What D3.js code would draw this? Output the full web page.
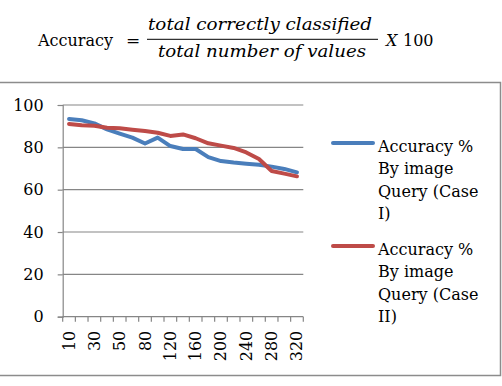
<!DOCTYPE html>
<html>
<head>
<meta charset="utf-8">
<script src="https://cdn.jsdelivr.net/npm/d3@7"></script>
<style>
  html, body { margin: 0; padding: 0; background: #fff; }
  svg { display: block; }
  text { font-family: "DejaVu Serif", serif; fill: #000; }
</style>
</head>
<body>
<div id="chart"></div>
<script>
// data
const categories = ["10", "20", "30", "40", "50", "60", "80", "100", "120", "140",
  "160", "180", "200", "220", "240", "260", "280", "300", "320"]
const shownLabels = ["10", "30", "50", "80", "120", "160", "200", "240", "280", "320"]
const caseI = [93.4, 92.8, 91.3, 88.5, 86.5, 84.6, 81.8, 84.6, 80.6, 79.2,
  79.2, 75.4, 73.5, 72.8, 72.3, 71.8, 70.9, 69.8, 68.2]
const caseII = [91.0, 90.4, 90.2, 89.3, 89.0, 88.3, 87.7, 86.9, 85.4, 86.1,
  84.3, 81.9, 80.8, 79.7, 77.6, 74.5, 68.8, 67.6, 66.3]
const yTicks = [0, 20, 40, 60, 80, 100]
const seriesNames = [
  ["Accuracy %", "By image", "Query (Case", "I)"],
  ["Accuracy %", "By image", "Query (Case", "II)"]
]
const colors = ["#4a7ebb", "#be4b48"]

const width = 502
const height = 386

const svg = d3.select("#chart")
  .append("svg")
  .attr("width", width)
  .attr("height", height)

// formula
const f = svg.append("g")
f.append("text").attr("x", 38).attr("y", 46).attr("font-size", 16).text("Accuracy")
f.append("text").attr("x", 126).attr("y", 46).attr("font-size", 17).text("=")
f.append("line")
  .attr("x1", 147).attr("x2", 378).attr("y1", 39.3).attr("y2", 39.3)
  .attr("stroke", "#000").attr("stroke-width", 1)
f.append("text").attr("x", 148).attr("y", 29.5).attr("font-size", 16)
  .attr("font-style", "italic")
  .attr("textLength", 224).attr("lengthAdjust", "spacingAndGlyphs")
  .text("total correctly classified")
f.append("text").attr("x", 158).attr("y", 57).attr("font-size", 16)
  .attr("font-style", "italic")
  .attr("textLength", 208).attr("lengthAdjust", "spacingAndGlyphs")
  .text("total number of values")
f.append("text").attr("x", 386).attr("y", 46).attr("font-size", 16)
  .attr("font-style", "italic").text("X")
f.append("text").attr("x", 403).attr("y", 46).attr("font-size", 16).text("100")

// chart frame
svg.append("rect")
  .attr("x", -2).attr("y", 82.5)
  .attr("width", 502.5).attr("height", 293)
  .attr("fill", "none")
  .attr("stroke", "#8c8c8c")
  .attr("stroke-width", 1.5)

const plot = { left: 62.7, right: 303.3, top: 105, bottom: 316.7 }

const x = d3.scaleBand()
  .domain(categories)
  .range([plot.left, plot.right])

const y = d3.scaleLinear()
  .domain([0, 100])
  .range([plot.bottom, plot.top])

// gridlines
svg.append("g")
  .selectAll("line")
  .data(yTicks.filter(d => d > 0))
  .join("line")
  .attr("x1", plot.left).attr("x2", plot.right)
  .attr("y1", d => y(d)).attr("y2", d => y(d))
  .attr("stroke", "#868686")
  .attr("stroke-width", 1.2)

// y axis
const yAxis = svg.append("g")
  .attr("transform", `translate(${plot.left},0)`)
  .call(d3.axisLeft(y).tickValues(yTicks).tickSize(5).tickPadding(14))
yAxis.select(".domain").attr("stroke", "#868686").attr("stroke-width", 1.2)
yAxis.selectAll(".tick line").attr("stroke", "#868686").attr("stroke-width", 1.2)
yAxis.selectAll("text")
  .attr("font-family", "DejaVu Serif")
  .attr("font-size", 16)
  .attr("fill", "#000")

// x axis line + ticks at category boundaries
const xg = svg.append("g")
xg.append("line")
  .attr("x1", plot.left).attr("x2", plot.right)
  .attr("y1", plot.bottom).attr("y2", plot.bottom)
  .attr("stroke", "#868686").attr("stroke-width", 1.2)
xg.selectAll("line.tk")
  .data(categories.concat(["end"]))
  .join("line")
  .attr("class", "tk")
  .attr("x1", (d, i) => i < categories.length ? x(d) : plot.right)
  .attr("x2", (d, i) => i < categories.length ? x(d) : plot.right)
  .attr("y1", plot.bottom).attr("y2", plot.bottom + 5)
  .attr("stroke", "#868686").attr("stroke-width", 1.2)

xg.selectAll("text")
  .data(shownLabels)
  .join("text")
  .attr("transform", d => `translate(${x(d) + x.bandwidth() / 2 + 5.5},${plot.bottom + 14}) rotate(-90)`)
  .attr("text-anchor", "end")
  .attr("font-size", 16)
  .text(d => d)

// lines
const line = d3.line()
  .x((d, i) => x(categories[i]) + x.bandwidth() / 2)
  .y(d => y(d))

svg.append("g")
  .selectAll("path")
  .data([caseI, caseII])
  .join("path")
  .attr("d", line)
  .attr("fill", "none")
  .attr("stroke", (d, i) => colors[i])
  .attr("stroke-width", 4)
  .attr("stroke-linejoin", "round")
  .attr("stroke-linecap", "round")

// legend
const legend = svg.append("g")
  .selectAll("g")
  .data(seriesNames)
  .join("g")
  .attr("transform", (d, i) => `translate(333,${143 + i * 103})`)

legend.append("line")
  .attr("x1", 0).attr("x2", 40)
  .attr("stroke", (d, i) => colors[i])
  .attr("stroke-width", 4)
  .attr("stroke-linecap", "round")

legend.each(function (lines) {
  d3.select(this).selectAll("text")
    .data(lines)
    .join("text")
    .attr("x", 45)
    .attr("y", (d, i) => 8.5 + i * 22.5)
    .attr("font-size", 16)
    .text(d => d)
})
</script>
</body>
</html>
